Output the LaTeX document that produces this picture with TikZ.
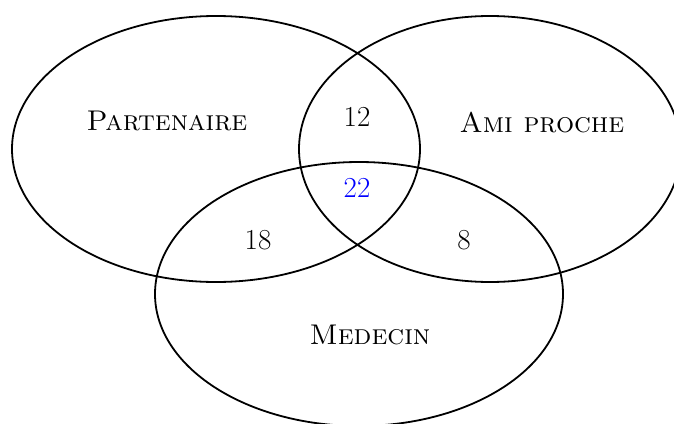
\documentclass[tikz,border=0pt]{standalone}
\usetikzlibrary{shapes.geometric}
\definecolor{numblue}{RGB}{0,0,255}
\tikzset{
  setshape/.style={draw=black, line width=1.8pt, ellipse, inner sep=0pt},
  setlabel/.style={font=\fontsize{28.5}{32}\selectfont, text=black, inner sep=0pt},
  numlabel/.style={font=\fontsize{29}{33}\selectfont, text=black, inner sep=0pt},
}
\begin{document}
\begin{tikzpicture}[x=1pt,y=-1pt]
\useasboundingbox (0,0) rectangle (674,423);
\node[setshape, minimum width=408pt, minimum height=266pt] (part) at (216,149) {};
\node[setshape, minimum width=382pt, minimum height=266pt] (ami) at (490,149) {};
\node[setshape, minimum width=408pt, minimum height=264pt] (med) at (359,294) {};
\node[setlabel] (lpart) at (167,121) {\textsc{Partenaire}};
\node[setlabel] (lami) at (542,122) {\textsc{Ami proche}};
\node[setlabel] (lmed) at (370,335) {\textsc{Medecin}};
\node[numlabel] (n12) at (357,117) {12};
\node[numlabel, text=numblue] (n22) at (357,188) {22};
\node[numlabel] (n18) at (258,240) {18};
\node[numlabel] (n8) at (464,240) {8};
\end{tikzpicture}
\end{document}
